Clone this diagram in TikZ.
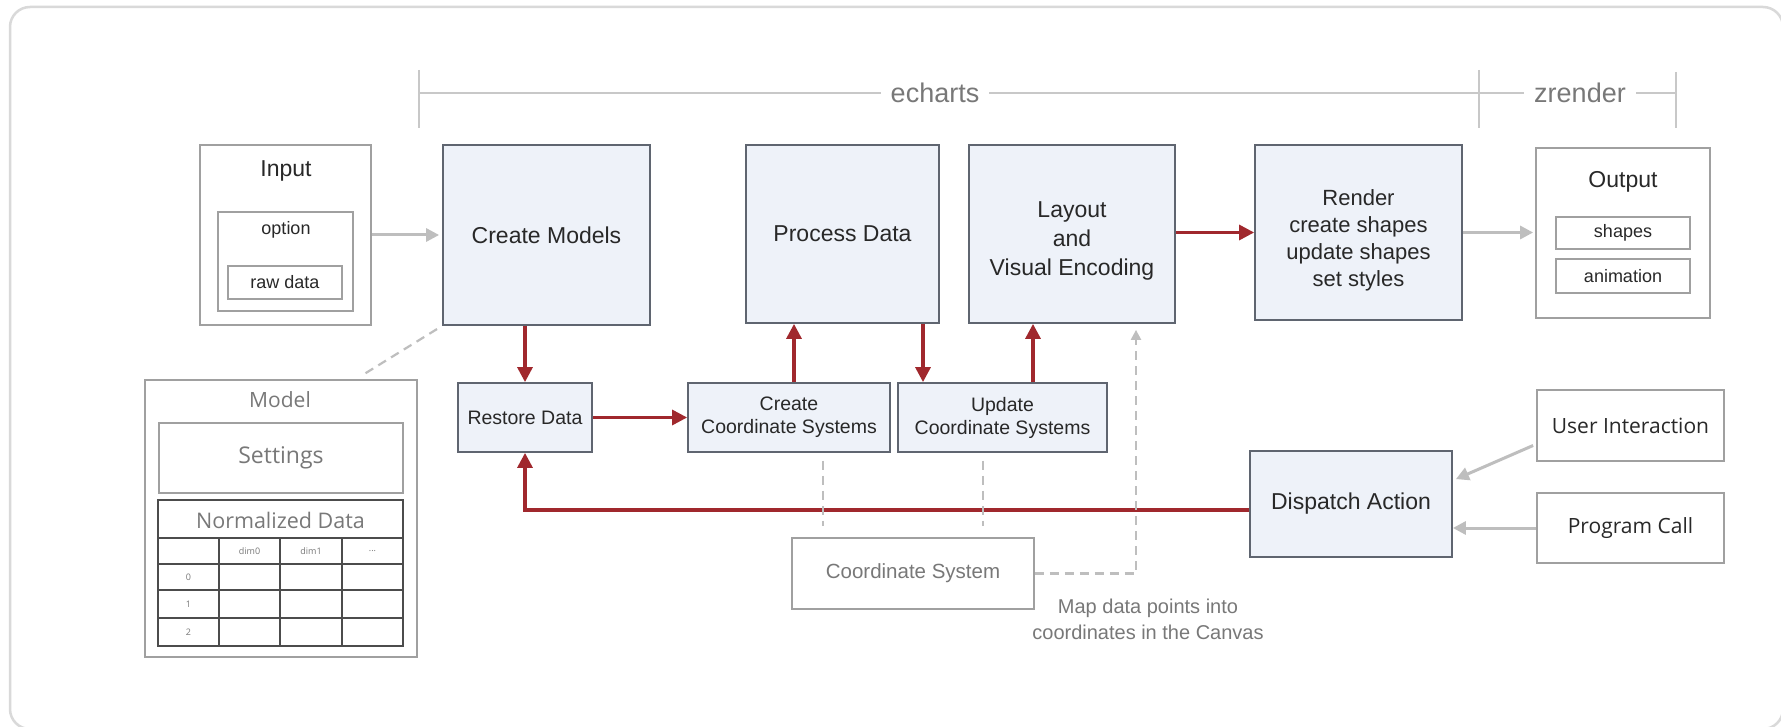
\documentclass[tikz,border=0pt]{standalone}
\usepackage{fontspec}
\setmainfont{Liberation Sans}
\newfontfamily\osans{Open Sans}
\usetikzlibrary{arrows.meta,calc}
\definecolor{boxfill}{RGB}{238,242,249}
\definecolor{boxline}{RGB}{95,101,112}
\definecolor{redarr}{RGB}{160,40,45}
\definecolor{grayarr}{RGB}{190,190,190}
\definecolor{wline}{RGB}{160,160,160}
\definecolor{txtdark}{RGB}{40,40,40}
\definecolor{txtgray}{RGB}{120,120,120}
\definecolor{brk}{RGB}{200,200,200}
\begin{document}
\begin{tikzpicture}[x=1pt,y=-1pt,
 bluebox/.style={draw=boxline, fill=boxfill, line width=1.8pt, inner sep=0pt, text=txtdark, align=center, font=\fontsize{23}{29}\selectfont},
 smallblue/.style={bluebox, font=\fontsize{19.5}{23}\selectfont},
 whitebox/.style={draw=wline, fill=white, line width=1.8pt, inner sep=0pt},
 lbl/.style={inner sep=0pt, text=txtdark, font=\fontsize{23}{28}\selectfont},
 smalllbl/.style={inner sep=0pt, text=txtdark, font=\fontsize{18}{22}\selectfont},
 modeltxt/.style={inner sep=0pt, text=txtgray, font=\osans\fontsize{21}{24}\selectfont},
 tinytxt/.style={inner sep=0pt, text=txtgray, font=\osans\fontsize{9}{11}\selectfont},
 tableline/.style={draw=black!70, line width=1.3pt},
 redarrow/.style={draw=redarr, line width=3.2pt, -{Triangle[length=15pt,width=15pt]}},
 grayarrow/.style={draw=grayarr, line width=3pt, -{Triangle[length=13pt,width=13pt]}},
 dashline/.style={draw=grayarr, line width=2.2pt, dash pattern=on 9pt off 6pt},
 brkline/.style={draw=brk, line width=2pt},
 brklbl/.style={fill=white, inner xsep=10pt, inner ysep=2pt, text=txtgray, font=\fontsize{27}{30}\selectfont},
]
\useasboundingbox (0,0) rectangle (1781,727);
\fill[white] (0,0) rectangle (1781,727);
\draw[draw=black!15, line width=2.5pt, rounded corners=20pt] (10,7) rectangle (1783,729);

% bracket
\coordinate (bL) at (419,93);
\coordinate (bM) at (1479,93);
\coordinate (bR) at (1676,93);
\draw[brkline] (419,70) -- (419,128);
\draw[brkline] (1479,70) -- (1479,128);
\draw[brkline] (1676,72) -- (1676,128);
\draw[brkline] (bL) -- (bR);
\node[brklbl] (echarts) at (935,93) {echarts};
\node[brklbl] (zrender) at (1580,93) {zrender};

% Input
\node[whitebox, minimum width=171pt, minimum height=180pt] (input) at (285.5,235) {};
\node[lbl] (inputT) at (286,171) {Input};
\node[whitebox, line width=1.4pt, minimum width=135pt, minimum height=99pt] (option) at (285.5,261.5) {};
\node[smalllbl] (optionT) at (286,230) {option};
\node[whitebox, smalllbl, draw=wline, line width=1.4pt, minimum width=114pt, minimum height=33pt] (raw) at (285,282.5) {raw data};

% top row
\node[bluebox, minimum width=207pt, minimum height=180pt] (create) at (546.5,235) {\raisebox{-3pt}{Create Models}};
\node[bluebox, minimum width=193pt, minimum height=178pt] (process) at (842.5,234) {\raisebox{-2pt}{Process Data}};
\node[bluebox, minimum width=206pt, minimum height=178pt] (layout) at (1072,234) {\\[-29pt]\\Layout\\and\\Visual Encoding};
\node[bluebox, minimum width=207pt, minimum height=175pt, font=\fontsize{22}{27}\selectfont] (render) at (1358.5,232.5) {\\[-22pt]\\Render\\create shapes\\update shapes\\set styles};

% Output
\node[whitebox, minimum width=174pt, minimum height=170pt] (output) at (1623,233) {};
\node[lbl] (outputT) at (1623,182) {Output};
\node[whitebox, smalllbl, draw=wline, line width=1.4pt, minimum width=134pt, minimum height=32pt] (shapes) at (1623,233) {shapes};
\node[whitebox, smalllbl, draw=wline, line width=1.4pt, minimum width=134pt, minimum height=34pt] (anim) at (1623,276) {animation};

% second row
\node[smallblue, minimum width=134pt, minimum height=69pt] (restore) at (525,417.5) {Restore Data};
\node[smallblue, minimum width=202pt, minimum height=69pt] (ccs) at (789,417.5) {Create\\Coordinate Systems};
\node[smallblue, minimum width=209pt, minimum height=69pt] (ucs) at (1002.5,417.5) {Update\\Coordinate Systems};
\node[whitebox, minimum width=242pt, minimum height=71pt, text=txtgray, font=\fontsize{20.5}{25}\selectfont] (coord) at (913,573.5) {Coordinate System};
\node[inner sep=0pt, text=txtgray, align=center, font=\fontsize{20}{26}\selectfont] (maptxt) at (1148,619) {Map data points into\\coordinates in the Canvas};

% dispatch and inputs
\node[bluebox, minimum width=202pt, minimum height=106pt] (dispatch) at (1351,504) {Dispatch Action};
\node[whitebox, minimum width=187pt, minimum height=71pt, text=txtdark, font=\osans\fontsize{21}{24}\selectfont] (ui) at (1630.5,425.5) {User Interaction};
\node[whitebox, minimum width=187pt, minimum height=70pt, text=txtdark, font=\osans\fontsize{21}{24}\selectfont] (pc) at (1630.5,528) {Program Call};

% Model
\node[whitebox, minimum width=272pt, minimum height=277pt] (model) at (281,518.5) {};
\node[modeltxt] (modelT) at (280,400) {Model};
\node[whitebox, modeltxt, draw=wline, line width=1.8pt, minimum width=244pt, minimum height=70pt, font=\osans\fontsize{23}{26}\selectfont] (settings) at (281,458) {Settings};
\node[draw=black!70, line width=1.3pt, inner sep=0pt, minimum width=245pt, minimum height=146pt] (table) at (280.5,573) {};
\draw[tableline] (158,538) -- (403,538);
\draw[tableline] (158,564) -- (403,564);
\draw[tableline] (158,590) -- (403,590);
\draw[tableline] (158,618) -- (403,618);
\draw[tableline] (219,538) -- (219,646);
\draw[tableline] (280,538) -- (280,646);
\draw[tableline] (342,538) -- (342,646);
\node[modeltxt, font=\osans\fontsize{21.5}{24}\selectfont] (normT) at (280.5,520) {Normalized Data};
\node[tinytxt] (d0) at (249.5,551) {dim0};
\node[tinytxt] (d1) at (311,551) {dim1};
\node[tinytxt] (d2) at (372.5,551) {...};
\node[tinytxt] (r0) at (188.5,577) {0};
\node[tinytxt] (r1) at (188.5,604) {1};
\node[tinytxt] (r2) at (188.5,632) {2};

% connectors
\draw[grayarrow, shorten >=3pt] (input.east |- create.west) -- (create.west);
\draw[redarrow] (restore.north |- create.south) -- (restore.north);
\draw[redarrow] (restore.east) -- (ccs.west);
\draw[redarrow] ([xshift=5pt]ccs.north) -- ([xshift=5pt]ccs.north |- process.south);
\draw[redarrow] ([xshift=-79.5pt]ucs.north |- process.south) -- ([xshift=-79.5pt]ucs.north);
\draw[redarrow] ([xshift=30.5pt]ucs.north) -- ([xshift=30.5pt]ucs.north |- layout.south);
\draw[redarrow] (layout.east |- render.west) -- (render.west);
\draw[grayarrow, shorten >=2pt] (render.east) -- (render.east -| output.west);
\draw[redarrow] ([yshift=-6pt]dispatch.west) -| (restore.south);
\draw[grayarrow] ([xshift=-3pt,yshift=-20pt]ui.west) -- ([xshift=3pt,yshift=-29pt]dispatch.north east);
\draw[grayarrow] (pc.west) -- (pc.west -| dispatch.east);

\draw[dashline, shorten <=8pt, shorten >=11pt] ([xshift=34pt]ccs.south) -- ([xshift=34pt]ccs.south |- coord.north);
\draw[dashline, shorten <=8pt, shorten >=11pt] ([xshift=-19.5pt]ucs.south) -- ([xshift=-19.5pt]ucs.south |- coord.north);
\draw[dashline, -{Triangle[length=10pt,width=10pt]}, shorten >=6pt] (coord.east) -| ([xshift=64pt]layout.south);
\draw[dashline, shorten <=6pt, shorten >=8pt] (create.south west) -- ([xshift=75pt]model.north);
\end{tikzpicture}
\end{document}
